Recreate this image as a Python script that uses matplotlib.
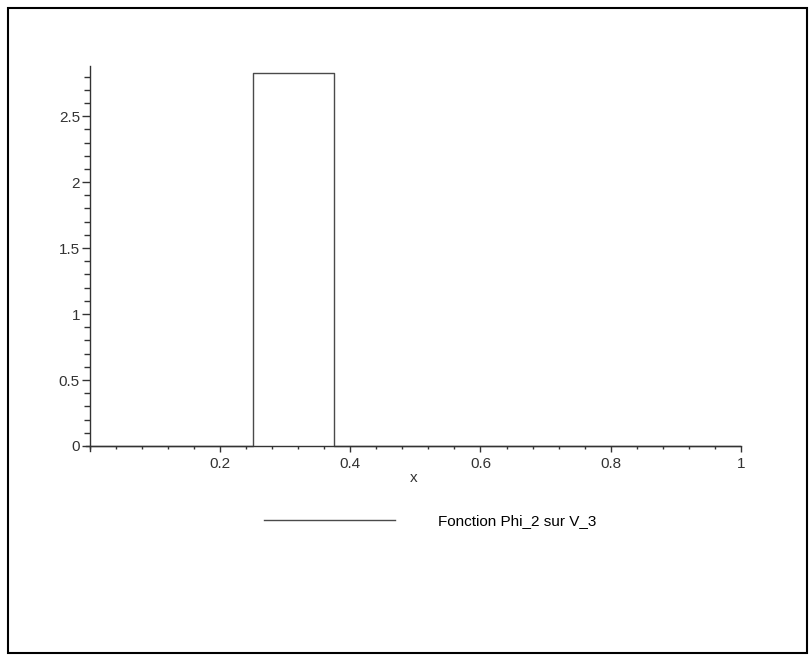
import numpy as np
import matplotlib
matplotlib.use("Agg")
import matplotlib.pyplot as plt
from matplotlib.patches import Rectangle
from matplotlib.ticker import MultipleLocator

plt.rcParams['font.family'] = ['Liberation Sans', 'DejaVu Sans']

# piecewise constant function Phi_2 on V_3 (as sampled by the plotter)
x = [0.0, 0.25, 0.25, 0.2515, 0.2515, 0.375, 0.375, 1.0]
y = [0.0, 0.0, 1.6, 1.6, 2.828, 2.828, 0.0, 0.0]
label = "Fonction Phi_2 sur V_3"

xticks = [0.2, 0.4, 0.6, 0.8, 1.0]
xticklabels = ["0.2", "0.4", "0.6", "0.8", "1"]
yticks = [0, 0.5, 1, 1.5, 2, 2.5]
yticklabels = ["0", "0.5", "1", "1.5", "2", "2.5"]

W, H = 809, 655
fig = plt.figure(figsize=(W / 100, H / 100), dpi=100)

# axes box: x 0..1 -> px 89..741, y 0 -> px 446, top 2.88 -> px 66
x0, x1 = 89, 741
y0px, ytop = 446, 66
ymax = 2.88
ymin = -0.035
yscale = (y0px - ytop) / ymax
bottom_px = y0px + (0 - ymin) * yscale
ax = fig.add_axes([x0 / W - 0.004, 1 - bottom_px / H,
                   (x1 - x0) / W + 0.004, (bottom_px - ytop) / H])

ax.plot(x, y, color='#4a4a4a', lw=1.0, label=label)
ax.set_xlim(-0.006, 1.0)
ax.set_ylim(ymin, ymax)

for s in ['top', 'right']:
    ax.spines[s].set_visible(False)
ax.spines['left'].set_position(('data', 0))
ax.spines['bottom'].set_position(('data', 0))
for s in ['left', 'bottom']:
    ax.spines[s].set_color('#333333')
    ax.spines[s].set_linewidth(1.0)

ax.set_xticks(xticks)
ax.set_xticklabels(xticklabels)
ax.set_yticks(yticks)
ax.set_yticklabels(yticklabels)
ax.xaxis.set_minor_locator(MultipleLocator(0.04))
ax.yaxis.set_minor_locator(MultipleLocator(0.1))
ax.tick_params(which='both', color='#333333', width=1,
               labelsize=11, labelcolor='#333333')
ax.tick_params(axis='x', which='major', length=4, pad=4)
ax.tick_params(axis='x', which='minor', length=2)
ax.tick_params(axis='y', which='major', length=6, pad=1)
ax.tick_params(axis='y', which='minor', length=4)
ax.set_xlabel('x', fontsize=11, color='#333333', labelpad=0)
ax.patch.set_visible(False)

fig.legend(loc='center', bbox_to_anchor=(430 / W, 1 - 521 / H),
           frameon=False, fontsize=11, handlelength=8.6, handletextpad=2.8)

fig.patches.append(Rectangle((8 / W, 2 / H), 799 / W, 645 / H,
                             transform=fig.transFigure, fill=False,
                             edgecolor='black', lw=1.5))

fig.savefig('out.png', dpi=100)
